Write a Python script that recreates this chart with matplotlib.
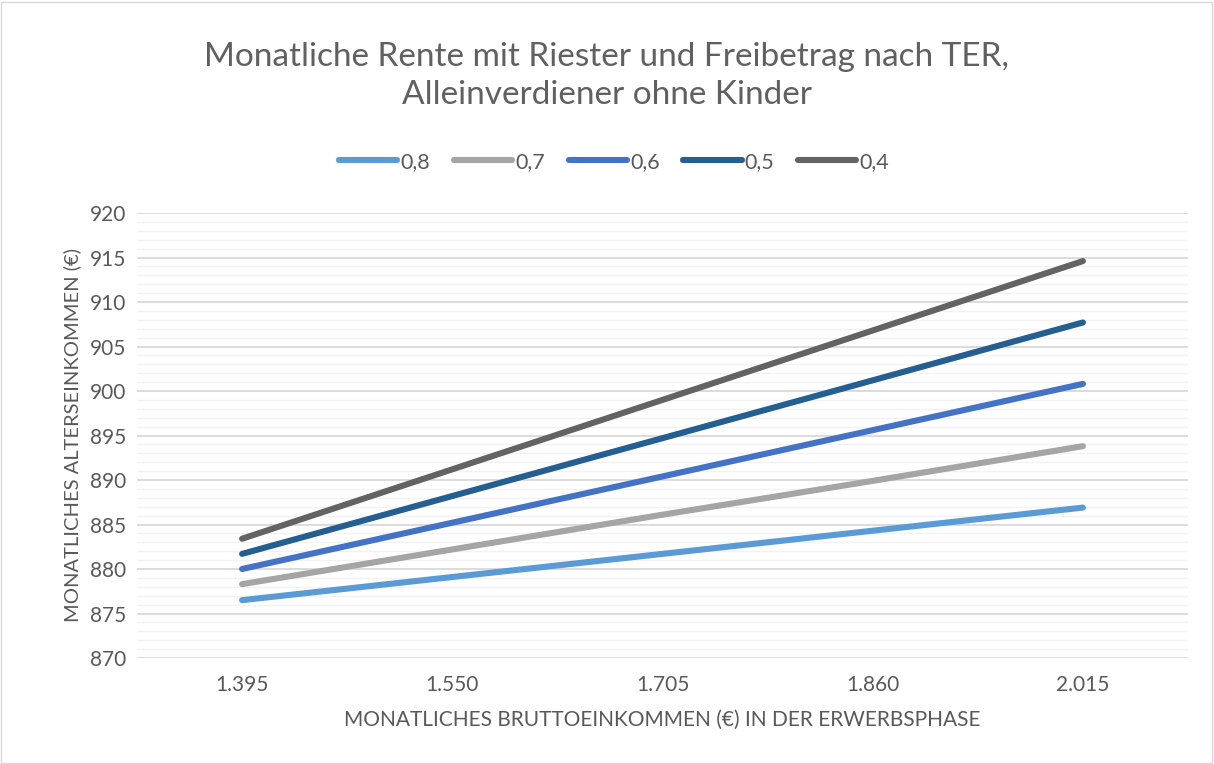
import matplotlib
matplotlib.use('Agg')
import matplotlib.pyplot as plt
from matplotlib.patches import Rectangle
from matplotlib.ticker import MultipleLocator

plt.rcParams['font.family'] = ['Lato', 'DejaVu Sans']

# Daten
categories = ['1.395', '1.550', '1.705', '1.860', '2.015']
series_labels = ['0,8', '0,7', '0,6', '0,5', '0,4']
rente_08 = [876.5, 879.1, 881.7, 884.3, 886.9]
rente_07 = [878.3, 882.2, 886.1, 889.9, 893.8]
rente_06 = [880.0, 885.2, 890.4, 895.6, 900.8]
rente_05 = [881.7, 888.2, 894.7, 901.2, 907.7]
rente_04 = [883.4, 891.2, 899.0, 906.8, 914.6]
colors = ['#5B9BD5', '#A5A5A5', '#4472C4', '#255E91', '#636363']

text_color = '#595959'

fig = plt.figure(figsize=(12.14, 7.64), dpi=100)
ax = fig.add_axes([137 / 1214, 1 - 658 / 764, (1188 - 137) / 1214, (658 - 213) / 764])

x = list(range(len(categories)))
for vals, lab, col in zip([rente_08, rente_07, rente_06, rente_05, rente_04],
                          series_labels, colors):
    ax.plot(x, vals, color=col, linewidth=4.4, solid_capstyle='round',
            label=lab, zorder=3)

ax.set_xlim(-0.5, len(categories) - 0.5)
ax.set_ylim(870, 920)
ax.set_xticks(x)
ax.set_xticklabels(categories)
ax.yaxis.set_major_locator(MultipleLocator(5))
ax.yaxis.set_minor_locator(MultipleLocator(1))
ax.grid(True, which='major', axis='y', color='#D9D9D9', linewidth=1.3, zorder=1)
ax.grid(True, which='minor', axis='y', color='#F2F2F2', linewidth=1.0, zorder=0)
for s in ax.spines.values():
    s.set_visible(False)
ax.tick_params(axis='both', which='both', length=0, labelsize=15, colors=text_color)
ax.tick_params(axis='x', pad=12)
ax.tick_params(axis='y', pad=8)

ax.set_xlabel('MONATLICHES BRUTTOEINKOMMEN (€) IN DER ERWERBSPHASE',
              fontsize=15, color=text_color, labelpad=11)
ax.set_ylabel('MONATLICHES ALTERSEINKOMMEN (€)', fontsize=14.5,
              color=text_color, labelpad=6)

fig.text(0.5, 1 - 76 / 764,
         'Monatliche Rente mit Riester und Freibetrag nach TER,\nAlleinverdiener ohne Kinder',
         ha='center', va='center', fontsize=24, color='#606060',
         linespacing=1.3)

leg = fig.legend(loc='center', bbox_to_anchor=(0.506, 1 - 162 / 764), ncol=5,
                 frameon=False, fontsize=15.5, handlelength=2.7,
                 columnspacing=1.1, handletextpad=0.15)
for t in leg.get_texts():
    t.set_color(text_color)

# Rahmen um das Diagramm
fig.patches.append(Rectangle((1 / 1214, 1 / 764), 1 - 3 / 1214, 1 - 3 / 764,
                             transform=fig.transFigure, fill=False,
                             edgecolor='#D9D9D9', linewidth=1.0))

fig.savefig('out.png', dpi=100)
